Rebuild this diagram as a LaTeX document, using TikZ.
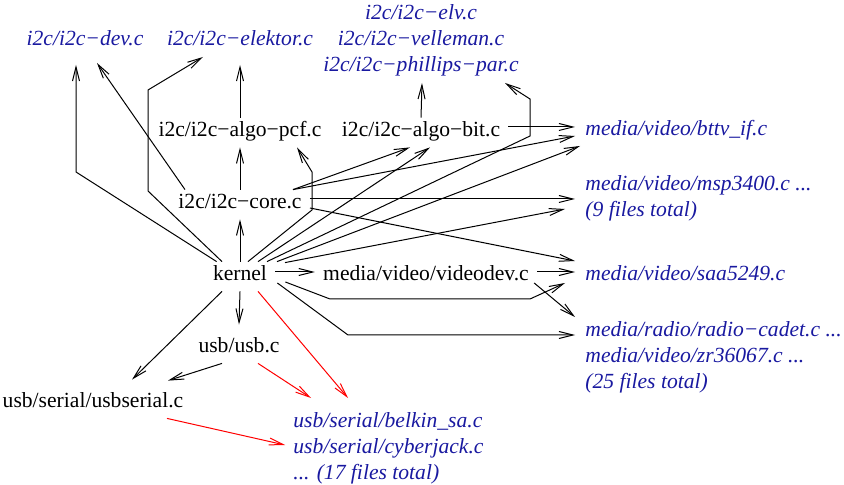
\documentclass[tikz,border=0pt]{standalone}
\usepackage{fontspec}
\setmainfont{Liberation Serif}
\usetikzlibrary{arrows.meta,calc}
\definecolor{filecol}{RGB}{25,25,160}

\begin{document}
\begin{tikzpicture}[x=0.5pt,y=-0.5pt,
  src/.style={font=\fontsize{10.8}{13}\selectfont, inner xsep=4pt, inner ysep=0pt,
    text height=9.5pt, text depth=5pt, anchor=base},
  lowsrc/.style={src, text height=14pt},
  file/.style={font=\fontsize{10.8}{13}\selectfont\itshape, text=filecol,
    inner xsep=5pt, inner ysep=0pt},
  dep/.style={-{Straight Barb[length=7pt,width=3.5pt]}, line width=0.5pt},
  usbdep/.style={dep, red}]
\useasboundingbox (0,0) rectangle (844,485);

% Source files
\node[src] (kernel) at (240,281) {kernel};
\node[src] (core) at (240,209) {i2c/i2c−core.c};
\node[src] (pcf) at (240,137) {i2c/i2c−algo−pcf.c};
\node[src] (bit) at (421,137) {i2c/i2c−algo−bit.c};
\node[src] (videodev) at (426,281) {media/video/videodev.c};
\node[lowsrc] (usb) at (239,353) {usb/usb.c};
\node[lowsrc] (usbserial) at (93,408) {usb/serial/usbserial.c};

% Drivers (base = last line)
\node[file, anchor=base] (dev) at (85,46) {i2c/i2c−dev.c};
\node[file, anchor=base] (elektor) at (240,46) {i2c/i2c−elektor.c};
\node[file, anchor=base, align=center] (boards) at (421,72)
  {i2c/i2c−elv.c\\i2c/i2c−velleman.c\\i2c/i2c−phillips−par.c};
\node[file, anchor=base west] (bttv) at (575,136) {media/video/bttv\_if.c};
\node[file, anchor=base west, align=left] (msp) at (575,217)
  {media/video/msp3400.c ...\\(9 files total)};
\node[file, anchor=base west] (saa) at (575,281) {media/video/saa5249.c};
\node[file, anchor=base west, align=left] (radio) at (575,388)
  {media/radio/radio−cadet.c ...\\media/video/zr36067.c ...\\(25 files total)};
\node[file, anchor=base west, align=left] (serial) at (283,479)
  {usb/serial/belkin\_sa.c\\usb/serial/cyberjack.c\\... (17 files total)};

% i2c
\draw[dep] (kernel) -- (76,172) -- ($(dev.base)+(-9,19)$);
\draw[dep] ($(core.north)+(-55,0)$) -- ($(dev.base)+(12,17)$);
\draw[dep] ($(kernel.north)+(-18,0)$) -- (148,191) -- (148,90) -- ($(elektor.base)+(-37,11)$);
\draw[dep] (pcf.north) -- ($(elektor.base)+(0,19)$);
\draw[dep] (core.north) -- (pcf.south);
\draw[dep] (kernel.north) -- (core.south);
\draw[dep] ($(kernel.north)+(8,0)$) -- (312,210) -- (312,172) -- ($(pcf.south)+(57,0)$);
\draw[dep] ($(core.north)+(53,0)$) -- ($(bit.south)+(-11,0)$);
\draw[dep] ($(kernel.north)+(18,0)$) -- ($(bit.south)+(9,0)$);
\draw[dep] (bit.north) -- ($(boards.base)+(1,11)$);
\draw[dep] ($(kernel.north)+(27,0)$) -- (530,136) -- (530,99) -- ($(boards.base)+(84,11)$);

% media
\draw[dep] ($(bit.base east)+(0,-10)$) -- ($(bttv.base west)+(0,-9)$);
\draw[dep] ($(core.north)+(53,0)$) -- (bttv.base west);
\draw[dep] ($(kernel.north)+(37,0)$) -- ($(bttv.base west)+(5,10)$);
\draw[dep] ($(core.base east)+(0,-10)$) -- ($(msp.base west)+(0,-18)$);
\draw[dep] ($(kernel.north)+(45,1)$) -- ($(msp.base west)+(-10,-8)$);
\draw[dep] ($(core.base east)+(0,-1)$) -- ($(saa.base west)+(0,-20)$);
\draw[dep] ($(kernel.base east)+(0,-9)$) -- ($(videodev.base west)+(0,-9)$);
\draw[dep] ($(videodev.base east)+(0,-9)$) -- ($(saa.base west)+(0,-9)$);
\draw[dep] ($(kernel.base east)+(10,1)$) -- (330,299) -- (530,299) -- ($(saa.base west)+(-10,2)$);
\draw[dep] ($(videodev.base east)+(-3,2)$) -- ($(radio.base west)+(0,-71)$);
\draw[dep] ($(kernel.base east)+(2,2)$) -- (348,335) -- ($(radio.base west)+(0,-53)$);

% usb
\draw[dep] (kernel.south) -- (usb.north);
\draw[dep] ($(kernel.south)+(-18,0)$) -- ($(usbserial.north)+(39,0)$);
\draw[dep] ($(usb.south)+(-17,0)$) -- ($(usbserial.north)+(75,1)$);
\draw[usbdep] ($(usb.south)+(19,0)$) -- ($(serial.base west)+(28,-81)$);
\draw[usbdep] ($(kernel.south)+(18,0)$) -- ($(serial.base west)+(65,-81)$);
\draw[usbdep] ($(usbserial.south)+(74,0)$) -- ($(serial.base west)+(2,-34)$);
\end{tikzpicture}
\end{document}
